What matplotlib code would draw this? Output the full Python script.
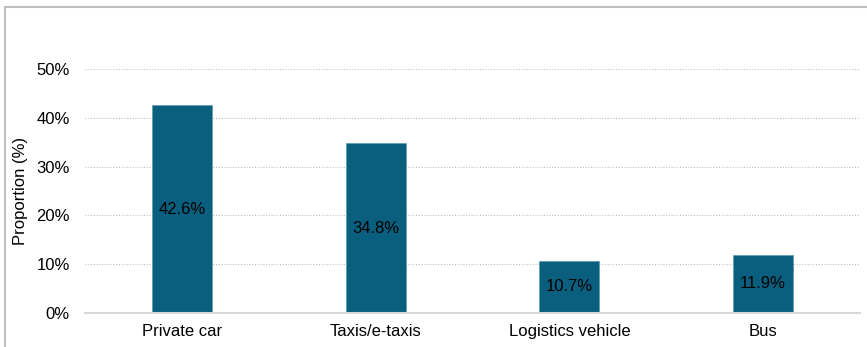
import matplotlib
matplotlib.use("Agg")
import matplotlib.pyplot as plt
from matplotlib.patches import Rectangle
from matplotlib.ticker import FuncFormatter

categories = ["Private car", "Taxis/e-taxis", "Logistics vehicle", "Bus"]
values = [42.6, 34.8, 10.7, 11.9]
y_ticks = [0, 10, 20, 30, 40, 50]

plt.rcParams["font.family"] = ["Liberation Sans", "DejaVu Sans"]

fig = plt.figure(figsize=(8.67, 3.47), dpi=100)
ax = fig.add_axes([85 / 867, 1 - 313 / 347, 775 / 867, 244 / 347])

x = range(len(categories))
bars = ax.bar(x, values, width=0.31, color="#0A5F7F", edgecolor="#5F9DB3",
              linewidth=0.6, zorder=3)
for b, v in zip(bars, values):
    ax.text(b.get_x() + b.get_width() / 2, v / 2, f"{v}%", ha="center",
            va="center", fontsize=12, color="black", zorder=4)

ax.set_xlim(-0.5, len(categories) - 0.5)
ax.set_ylim(0, 50)
ax.set_yticks(y_ticks)
ax.yaxis.set_major_formatter(FuncFormatter(lambda v, _: f"{v:.0f}%"))
ax.set_xticks(list(x))
ax.set_xticklabels(categories)
ax.tick_params(axis="both", length=0, labelsize=12, colors="black")
ax.tick_params(axis="y", pad=11)
ax.tick_params(axis="x", pad=8)
ax.grid(axis="y", color="#BFBFBF", linestyle=(0, (1, 1.5)), linewidth=0.8, zorder=0)
for s in ["top", "right", "left"]:
    ax.spines[s].set_visible(False)
ax.spines["bottom"].set_color("#D9D9D9")
ax.spines["bottom"].set_linewidth(1.5)
ax.spines["bottom"].set_zorder(5)
ax.set_ylabel("Proportion (%)", fontsize=12, labelpad=6)

# outer frame (left and top edges visible)
fig.patches.append(Rectangle((5 / 867, -0.1), 1.2, 1 - 7 / 347 + 0.1,
                             transform=fig.transFigure, fill=False,
                             edgecolor="#BFBFBF", linewidth=1.5))

fig.savefig("out.png", dpi=100)
